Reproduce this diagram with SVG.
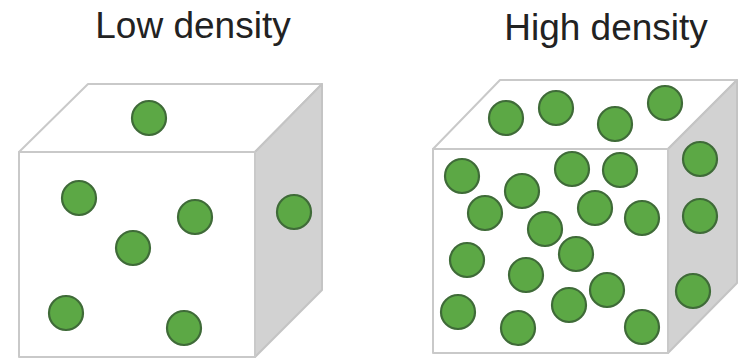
<svg xmlns="http://www.w3.org/2000/svg" width="740" height="363" viewBox="0 0 740 363">
<style>
.face{fill:#ffffff;stroke:#c9c9c9;stroke-width:2;stroke-linejoin:round}
.side{fill:#d2d2d2;stroke:#c4c4c4;stroke-width:2;stroke-linejoin:round}
.p{fill:#5ca845;stroke:#3f6b38;stroke-width:2.2}
.t{font-family:"Liberation Sans",Arial,sans-serif;font-size:37px;fill:#222;text-anchor:middle}
</style>
<rect width="740" height="363" fill="#ffffff"/>
<g id="low">
<text class="t" x="193" y="38">Low density</text>
<polygon class="face" points="19,152 88,84 322,84 255,152"/>
<polygon class="side" points="255,152 322,84 322,290 255,357"/>
<rect class="face" x="19" y="152" width="236" height="205"/>
<circle class="p" cx="149" cy="118" r="17"/>
<circle class="p" cx="79" cy="198" r="17"/>
<circle class="p" cx="195" cy="217" r="17"/>
<circle class="p" cx="133" cy="248" r="17"/>
<circle class="p" cx="66" cy="313" r="17"/>
<circle class="p" cx="184" cy="328" r="17"/>
<circle class="p" cx="294" cy="212" r="17"/>
</g>
<g id="high">
<text class="t" x="606" y="40">High density</text>
<polygon class="face" points="433,149 500,80 737,80 668,149"/>
<polygon class="side" points="668,149 737,80 737,283 668,353"/>
<rect class="face" x="433" y="149" width="235" height="204"/>
<circle class="p" cx="506" cy="118" r="17"/>
<circle class="p" cx="556" cy="108" r="17"/>
<circle class="p" cx="615" cy="124" r="17"/>
<circle class="p" cx="665" cy="103" r="17"/>
<circle class="p" cx="462" cy="176" r="17"/>
<circle class="p" cx="572" cy="169" r="17"/>
<circle class="p" cx="620" cy="170" r="17"/>
<circle class="p" cx="522" cy="191" r="17"/>
<circle class="p" cx="485" cy="213" r="17"/>
<circle class="p" cx="595" cy="208" r="17"/>
<circle class="p" cx="642" cy="218" r="17"/>
<circle class="p" cx="545" cy="229" r="17"/>
<circle class="p" cx="576" cy="254" r="17"/>
<circle class="p" cx="467" cy="260" r="17"/>
<circle class="p" cx="526" cy="275" r="17"/>
<circle class="p" cx="607" cy="290" r="17"/>
<circle class="p" cx="458" cy="312" r="17"/>
<circle class="p" cx="569" cy="305" r="17"/>
<circle class="p" cx="518" cy="328" r="17"/>
<circle class="p" cx="642" cy="327" r="17"/>
<circle class="p" cx="700" cy="159" r="17"/>
<circle class="p" cx="700" cy="216" r="17"/>
<circle class="p" cx="693" cy="291" r="17"/>
</g>
<g id="connectors"/>
</svg>
